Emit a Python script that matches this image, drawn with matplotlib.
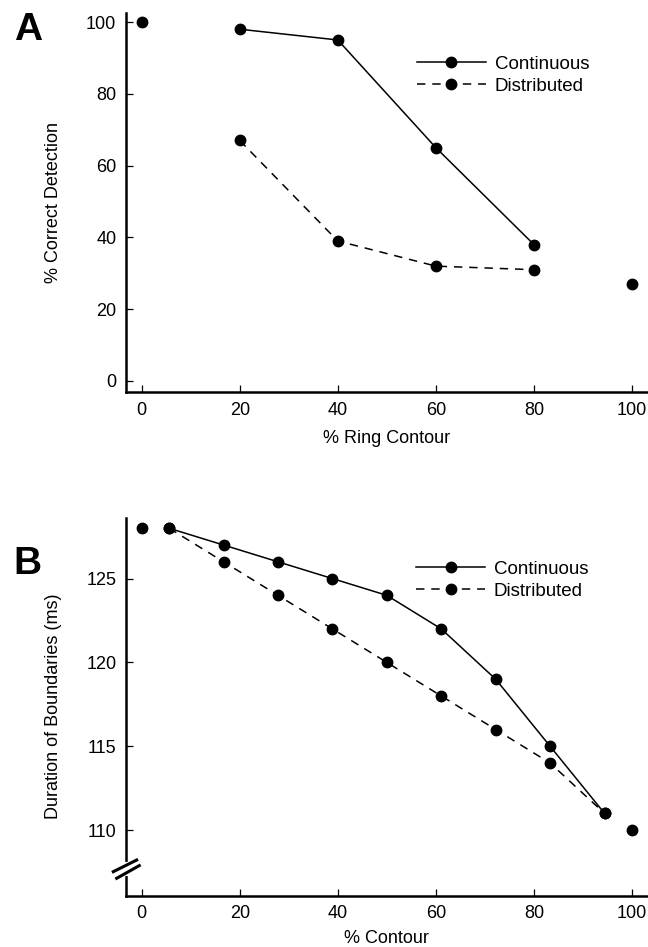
import matplotlib
matplotlib.use('Agg')
import matplotlib.pyplot as plt
from matplotlib.lines import Line2D

plt.rcParams['font.family'] = ['Liberation Sans', 'DejaVu Sans']

# panel A: % correct detection vs % ring contour
a_x = [20, 40, 60, 80]
a_cont = [98, 95, 65, 38]
a_dist = [67, 39, 32, 31]
a_end_x = [0, 100]
a_end_y = [100, 27]

# panel B: duration of boundaries vs % contour
b_x = [5.6, 16.7, 27.8, 38.9, 50.0, 61.1, 72.2, 83.3, 94.4]
b_cont = [128, 127, 126, 125, 124, 122, 119, 115, 111]
b_dist = [128, 126, 124, 122, 120, 118, 116, 114, 111]
b_end_x = [0, 100]
b_end_y = [128, 110]

labels = ['Continuous', 'Distributed']

W, H = 648, 947
fig = plt.figure(figsize=(W / 100, H / 100), dpi=100)
DASH = (5.5, 4.5)


def px_axes(l, t, r, b):
    return fig.add_axes([l / W, 1 - b / H, (r - l) / W, (b - t) / H])


def style(ax):
    for s in ['top', 'right']:
        ax.spines[s].set_visible(False)
    for s in ['left', 'bottom']:
        ax.spines[s].set_linewidth(1.8)
    ax.tick_params(direction='in', length=5, width=0.9, labelsize=13, pad=7)
    ax.set_xticks([0, 20, 40, 60, 80, 100])


def add_legend(ax, left, top):
    h1 = Line2D([], [], color='black', lw=1.1, marker='o', ms=7.5)
    h2 = Line2D([], [], color='black', lw=1.1, marker='o', ms=7.5, dashes=DASH)
    ax.legend([h1, h2], labels, loc='upper left', frameon=False, fontsize=13.5,
              bbox_to_anchor=(left / W, 1 - top / H), bbox_transform=fig.transFigure,
              borderpad=0, borderaxespad=0, handlelength=3.7, handletextpad=0.45,
              labelspacing=0.25, numpoints=1)


# ---- panel A
axA = px_axes(126, 12.7, 646.7, 392.3)
style(axA)
axA.plot(a_x, a_cont, color='black', lw=1.1, marker='o', ms=7.5)
axA.plot(a_x, a_dist, color='black', lw=1.1, marker='o', ms=7.5, dashes=DASH)
axA.plot(a_end_x, a_end_y, 'o', color='black', ms=7.5)
axA.set_xlim(-3.2, 103)
axA.set_ylim(-3.15, 102.6)
axA.set_yticks([0, 20, 40, 60, 80, 100])
axA.set_ylabel('% Correct Detection', fontsize=13)
axA.set_xlabel('% Ring Contour', fontsize=13)
axA.yaxis.set_label_coords(-0.122, 0.5)
axA.xaxis.set_label_coords(0.5, -0.1)
add_legend(axA, 416.7, 55.6)
fig.text(28 / W, 1 - 30 / H, 'A', fontsize=28, fontweight='bold', ha='center', va='center')

# ---- panel B
axB = px_axes(126, 517.7, 646.7, 895.7)
style(axB)
axB.plot(b_x, b_cont, color='black', lw=1.1, marker='o', ms=7.5)
axB.plot(b_x, b_dist, color='black', lw=1.1, marker='o', ms=7.5, dashes=DASH)
axB.plot(b_end_x, b_end_y, 'o', color='black', ms=7.5)
axB.set_xlim(-3.2, 103)
axB.set_ylim(106.09, 128.63)
axB.set_yticks([110, 115, 120, 125])
axB.set_ylabel('Duration of Boundaries (ms)', fontsize=13)
axB.set_xlabel('% Contour', fontsize=13)
axB.yaxis.set_label_coords(-0.122, 0.5)
axB.xaxis.set_label_coords(0.5, -0.092)
add_legend(axB, 416, 560.6)
fig.text(27.5 / W, 1 - 564 / H, 'B', fontsize=28, fontweight='bold', ha='center', va='center')

# axis break marks on the y axis of panel B
axB.plot([0, 0], [0.058, 0.085], color='white', lw=3, transform=axB.transAxes,
         clip_on=False, zorder=5)
axB.plot([-0.0244, 0.0205], [0.0635, 0.0944], color='black', lw=2.2,
         transform=axB.transAxes, clip_on=False, zorder=6)
axB.plot([-0.0179, 0.0255], [0.046, 0.0796], color='black', lw=2.2,
         transform=axB.transAxes, clip_on=False, zorder=6)

fig.savefig('out.png', dpi=100)
